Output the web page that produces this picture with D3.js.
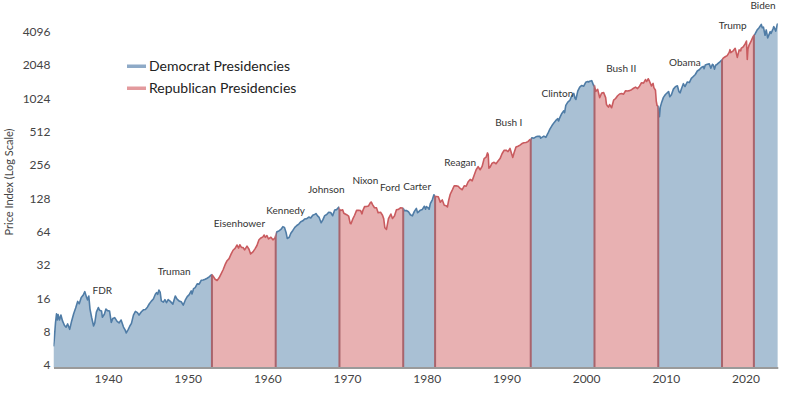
<!DOCTYPE html>
<html>
<head>
<meta charset="utf-8">
<script src="https://cdn.jsdelivr.net/npm/d3@7/dist/d3.min.js"></script>
<style>
  body { margin: 0; background: #fff; }
  svg text { font-family: Lato, "Open Sans", sans-serif; }
</style>
</head>
<body>
<div id="viz"></div>
<script>
// presidencies (name, party, year the term began)
const presidents = ["FDR", "Truman", "Eisenhower", "Kennedy", "Johnson", "Nixon", "Ford", "Carter",
  "Reagan", "Bush I", "Clinton", "Bush II", "Obama", "Trump", "Biden"];
const parties = ["D", "D", "R", "D", "D", "R", "R", "D", "R", "R", "D", "R", "D", "R", "D"];
const termStarts = [1933.17, 1945.28, 1953.05, 1961.05, 1963.89, 1969.05, 1974.6, 1977.05,
  1981.05, 1989.05, 1993.05, 2001.05, 2009.05, 2017.05, 2021.05];
const dataEnd = 2024.05;

// where each president's name sits (year, index level)
const labelYears = [1939.3, 1948.3, 1956.5, 1962.3, 1967.4, 1972.3, 1975.4, 1978.8,
  1984.2, 1990.3, 1996.4, 2004.4, 2012.4, 2018.4, 2022.2];
const labelValues = [19, 28.2, 76.6, 100, 155, 187, 159, 165, 267, 626, 1144, 1925, 2180, 4705, 7130];

const yTicks = [4, 8, 16, 32, 64, 128, 256, 512, 1024, 2048, 4096];
const xTicks = [1940, 1950, 1960, 1970, 1980, 1990, 2000, 2010, 2020];

// S&P 500 price index [year, level]
const sp500 = [
  [1933.17, 5.9], [1933.25, 6.6], [1933.42, 9.6], [1933.55, 11.6], [1933.65, 10.2], [1933.75, 11.4], [1933.92, 10.2],
  [1934.1, 11.3], [1934.3, 10.0], [1934.55, 9.1], [1934.75, 8.8], [1934.95, 9.4],
  [1935.2, 8.4], [1935.45, 10.0], [1935.7, 11.6], [1935.95, 13.1],
  [1936.2, 15.0], [1936.4, 14.3], [1936.65, 16.3], [1936.9, 17.1],
  [1937.1, 18.4], [1937.3, 16.5], [1937.45, 15.5], [1937.6, 16.8], [1937.75, 12.8], [1937.95, 10.8],
  [1938.2, 9.0], [1938.35, 9.6], [1938.55, 12.0], [1938.8, 13.2], [1938.95, 12.5],
  [1939.2, 12.3], [1939.3, 10.8], [1939.55, 11.5], [1939.75, 12.8], [1939.95, 12.4],
  [1940.2, 12.3], [1940.42, 9.7], [1940.6, 10.5], [1940.85, 10.7],
  [1941.15, 9.9], [1941.4, 9.6], [1941.65, 10.2], [1941.95, 8.8],
  [1942.15, 8.3], [1942.3, 7.8], [1942.55, 8.4], [1942.75, 9.0], [1942.95, 9.5],
  [1943.2, 11.3], [1943.45, 12.2], [1943.7, 11.9], [1943.9, 11.3],
  [1944.2, 12.1], [1944.45, 12.6], [1944.7, 12.7], [1944.95, 13.3],
  [1945.2, 14.3], [1945.45, 15.1], [1945.7, 15.8], [1945.95, 17.4],
  [1946.1, 18.0], [1946.25, 17.4], [1946.4, 19.0], [1946.55, 18.2], [1946.7, 15.2], [1946.95, 14.8],
  [1947.15, 15.6], [1947.35, 14.6], [1947.55, 15.6], [1947.8, 15.1],
  [1948.15, 14.2], [1948.45, 16.8], [1948.65, 15.8], [1948.95, 15.1],
  [1949.2, 14.9], [1949.45, 13.9], [1949.7, 15.4], [1949.95, 16.6],
  [1950.2, 17.3], [1950.45, 18.7], [1950.55, 17.5], [1950.75, 19.6], [1950.95, 20.0],
  [1951.2, 21.6], [1951.45, 21.5], [1951.7, 23.3], [1951.95, 23.4],
  [1952.2, 23.8], [1952.45, 24.3], [1952.7, 25.0], [1952.95, 26.0],
  [1953.05, 26.2], [1953.2, 25.3], [1953.45, 23.8], [1953.7, 23.2], [1953.95, 24.5],
  [1954.2, 26.6], [1954.45, 29.0], [1954.7, 32.2], [1954.95, 35.0],
  [1955.2, 36.5], [1955.45, 40.1], [1955.7, 43.5], [1955.95, 45.2],
  [1956.2, 48.5], [1956.4, 45.5], [1956.55, 48.8], [1956.75, 46.2], [1956.95, 46.1],
  [1957.15, 43.8], [1957.45, 47.4], [1957.7, 44.4], [1957.9, 40.3],
  [1958.2, 42.1], [1958.45, 44.8], [1958.7, 48.0], [1958.95, 54.1],
  [1959.2, 56.2], [1959.45, 57.5], [1959.6, 59.7], [1959.75, 56.9], [1959.95, 59.0],
  [1960.15, 55.0], [1960.45, 57.0], [1960.7, 54.0], [1960.95, 56.0],
  [1961.05, 59.0], [1961.2, 64.0], [1961.45, 65.0], [1961.7, 67.0], [1961.95, 71.0],
  [1962.15, 70.0], [1962.35, 63.0], [1962.5, 55.6], [1962.75, 57.0], [1962.95, 62.0],
  [1963.2, 65.7], [1963.45, 70.0], [1963.7, 72.8], [1963.95, 75.0],
  [1964.2, 78.8], [1964.45, 80.2], [1964.7, 83.4], [1964.95, 84.0],
  [1965.2, 86.8], [1965.45, 85.0], [1965.7, 89.9], [1965.95, 91.7],
  [1966.1, 93.3], [1966.3, 88.9], [1966.5, 86.1], [1966.75, 77.1], [1966.95, 81.3],
  [1967.2, 89.4], [1967.45, 91.4], [1967.7, 95.8], [1967.95, 95.3],
  [1968.2, 89.1], [1968.45, 100.5], [1968.7, 101.3], [1968.95, 106.5],
  [1969.05, 102.0], [1969.2, 99.3], [1969.45, 101.0], [1969.6, 94.0], [1969.95, 91.1],
  [1970.2, 88.6], [1970.4, 76.0], [1970.5, 75.6], [1970.7, 82.6], [1970.95, 90.1],
  [1971.2, 99.6], [1971.45, 99.7], [1971.7, 99.3], [1971.88, 92.8], [1971.98, 99.2],
  [1972.2, 107.7], [1972.45, 108.0], [1972.7, 109.4], [1972.95, 117.5],
  [1973.05, 118.4], [1973.2, 112.4], [1973.45, 105.2], [1973.7, 105.0], [1973.9, 94.8],
  [1974.2, 96.0], [1974.45, 90.0], [1974.6, 84.0], [1974.75, 69.4], [1974.95, 67.1],
  [1975.2, 83.8], [1975.5, 92.4], [1975.7, 84.2], [1975.95, 88.7],
  [1976.2, 101.0], [1976.45, 101.8], [1976.7, 105.2], [1976.95, 104.7],
  [1977.05, 103.8], [1977.2, 99.1], [1977.45, 99.3], [1977.7, 97.0], [1977.95, 91.0],
  [1978.2, 88.8], [1978.45, 97.7], [1978.7, 103.9], [1978.85, 95.0], [1978.95, 96.1],
  [1979.2, 100.1], [1979.45, 101.7], [1979.7, 108.6], [1979.85, 102.0], [1979.95, 107.8],
  [1980.2, 104.7], [1980.3, 102.0], [1980.45, 114.6], [1980.7, 124.1], [1980.9, 138.0],
  [1981.05, 133.0], [1981.2, 133.2], [1981.45, 132.3], [1981.7, 118.3], [1981.95, 123.8],
  [1982.2, 110.8], [1982.45, 109.6], [1982.6, 107.0], [1982.75, 122.4], [1982.95, 139.4],
  [1983.2, 151.9], [1983.45, 166.4], [1983.7, 166.0], [1983.95, 164.9],
  [1984.2, 157.4], [1984.45, 153.1], [1984.7, 166.1], [1984.95, 164.5],
  [1985.2, 180.7], [1985.45, 189.6], [1985.7, 184.1], [1985.95, 207.3],
  [1986.2, 232.3], [1986.45, 247.4], [1986.7, 232.0], [1986.95, 248.6],
  [1987.2, 292.5], [1987.45, 301.4], [1987.62, 329.4], [1987.72, 318.7], [1987.8, 240.0], [1987.95, 245.0],
  [1988.2, 265.7], [1988.45, 270.7], [1988.7, 263.0], [1988.95, 277.7],
  [1989.2, 292.7], [1989.45, 323.7], [1989.7, 347.3], [1989.95, 348.6],
  [1990.2, 338.5], [1990.45, 361.2], [1990.7, 315.4], [1990.8, 300.0], [1990.95, 328.8],
  [1991.2, 372.3], [1991.45, 378.3], [1991.7, 387.2], [1991.95, 400.0],
  [1992.2, 407.4], [1992.45, 408.3], [1992.7, 416.3], [1992.95, 435.6],
  [1993.05, 435.0], [1993.2, 451.7], [1993.45, 447.3], [1993.7, 460.1], [1993.95, 465.9],
  [1994.2, 464.7], [1994.3, 447.0], [1994.45, 454.8], [1994.7, 467.0], [1994.95, 455.2],
  [1995.2, 493.2], [1995.45, 539.4], [1995.7, 578.8], [1995.95, 614.6],
  [1996.2, 647.1], [1996.45, 670.6], [1996.55, 640.0], [1996.7, 687.3], [1996.95, 748.0],
  [1997.2, 789.6], [1997.3, 760.0], [1997.45, 885.1], [1997.7, 947.3], [1997.95, 980.3],
  [1998.2, 1076.8], [1998.45, 1133.8], [1998.62, 1020.0], [1998.72, 1000.0], [1998.95, 1190.0],
  [1999.2, 1294.0], [1999.45, 1339.0], [1999.7, 1318.0], [1999.95, 1428.7],
  [2000.2, 1454], [2000.3, 1440], [2000.45, 1462], [2000.7, 1480], [2000.95, 1331],
  [2001.05, 1335], [2001.2, 1185], [2001.45, 1234], [2001.7, 1040], [2001.95, 1144],
  [2002.2, 1153], [2002.45, 1040], [2002.55, 903], [2002.7, 870], [2002.8, 854], [2002.95, 900],
  [2003.2, 842], [2003.45, 985], [2003.7, 1021], [2003.95, 1081],
  [2004.2, 1121], [2004.45, 1133], [2004.7, 1116], [2004.95, 1199],
  [2005.2, 1194], [2005.45, 1202], [2005.7, 1227], [2005.95, 1263],
  [2006.2, 1294], [2006.45, 1254], [2006.7, 1320], [2006.95, 1416],
  [2007.2, 1407], [2007.45, 1514], [2007.6, 1455], [2007.8, 1539], [2007.95, 1463],
  [2008.2, 1327], [2008.4, 1400], [2008.5, 1280], [2008.7, 1213], [2008.8, 968], [2008.9, 883], [2008.97, 878],
  [2009.05, 865], [2009.15, 757], [2009.2, 700], [2009.3, 850], [2009.45, 928], [2009.7, 1045], [2009.95, 1110],
  [2010.2, 1152], [2010.35, 1180], [2010.5, 1060], [2010.7, 1102], [2010.95, 1241],
  [2011.2, 1304], [2011.45, 1330], [2011.65, 1175], [2011.8, 1150], [2011.95, 1244],
  [2012.2, 1390], [2012.4, 1310], [2012.7, 1440], [2012.95, 1422],
  [2013.2, 1550], [2013.45, 1614], [2013.7, 1682], [2013.95, 1808],
  [2014.2, 1857], [2014.45, 1947], [2014.7, 1993], [2014.8, 1900], [2014.95, 2054],
  [2015.2, 2083], [2015.45, 2099], [2015.65, 1920], [2015.85, 2080], [2015.95, 2054],
  [2016.1, 1880], [2016.25, 2040], [2016.45, 2083], [2016.7, 2160], [2016.95, 2246],
  [2017.05, 2275], [2017.2, 2366], [2017.45, 2434], [2017.7, 2492], [2017.95, 2664],
  [2018.05, 2820], [2018.15, 2650], [2018.45, 2754], [2018.7, 2902], [2018.97, 2400],
  [2019.2, 2804], [2019.4, 2750], [2019.45, 2890], [2019.7, 2983], [2019.95, 3176],
  [2020.12, 3370], [2020.22, 2300], [2020.3, 2850], [2020.45, 3104], [2020.7, 3365], [2020.95, 3695],
  [2021.05, 3793], [2021.2, 3910], [2021.45, 4238], [2021.7, 4445], [2021.98, 4766],
  [2022.1, 4450], [2022.25, 4500], [2022.45, 3800], [2022.6, 4250], [2022.78, 3600], [2022.95, 3850],
  [2023.1, 4100], [2023.2, 3950], [2023.45, 4345], [2023.55, 4550], [2023.8, 4150], [2023.98, 4770],
  [2024.05, 4850]
];

const width = 787, height = 398;
const plotBottom = 367.5;

const colors = {
  D: { fill: "#a9c0d4", line: "#4f7ca6", swatch: "#8eaac7" },
  R: { fill: "#e8b1b2", line: "#c95b5f", swatch: "#e39a9d" }
};

const svg = d3.select("#viz")
  .append("svg")
  .attr("width", width)
  .attr("height", height)
  .style("background", "#fff");

const xScale = d3.scaleLinear()
  .domain([termStarts[0], dataEnd])
  .range([53.5, 777.8]);

const yScale = d3.scaleLog()
  .base(2)
  .domain([4, 4096])
  .range([365, 31.7]);

const area = d3.area()
  .x(d => xScale(d[0]))
  .y0(plotBottom)
  .y1(d => yScale(d[1]));

const line = d3.line()
  .x(d => xScale(d[0]))
  .y(d => yScale(d[1]));

// merge consecutive terms of one party into blocks
const blocks = [];
termStarts.forEach((s, i) => {
  const last = blocks[blocks.length - 1];
  if (last && last.party === parties[i]) return;
  if (last) last.end = s;
  blocks.push({ party: parties[i], start: s, end: dataEnd });
});

const defs = svg.append("defs");
blocks.forEach((b, i) => {
  defs.append("clipPath")
    .attr("id", "blk" + i)
    .append("rect")
    .attr("x", xScale(b.start))
    .attr("y", 0)
    .attr("width", xScale(b.end) - xScale(b.start))
    .attr("height", plotBottom + 1);
});
defs.append("clipPath")
  .attr("id", "areaClip")
  .append("path")
  .attr("d", area(sp500));

blocks.forEach((b, i) => {
  const g = svg.append("g").attr("clip-path", `url(#blk${i})`);
  g.append("path")
    .attr("d", area(sp500))
    .attr("fill", colors[b.party].fill);
  g.append("path")
    .attr("d", line(sp500))
    .attr("fill", "none")
    .attr("stroke", colors[b.party].line)
    .attr("stroke-width", 1.6)
    .attr("stroke-linejoin", "round");
});

// dividers where the party changes
svg.append("g")
  .attr("clip-path", "url(#areaClip)")
  .selectAll("line")
  .data(blocks.slice(1))
  .join("line")
  .attr("x1", d => xScale(d.start))
  .attr("x2", d => xScale(d.start))
  .attr("y1", 0)
  .attr("y2", plotBottom)
  .attr("stroke", "#a9646c")
  .attr("stroke-width", 2);

// x axis
const xAxis = svg.append("g")
  .attr("transform", `translate(0,${plotBottom})`)
  .call(d3.axisBottom(xScale).tickValues(xTicks).tickSize(0).tickPadding(7).tickFormat(d3.format("d")));
xAxis.select(".domain").attr("stroke", "#9a9a9a").attr("stroke-width", 2);
xAxis.selectAll("text").attr("fill", "#444").style("font-size", "12px");

// y axis
const yAxis = svg.append("g")
  .attr("transform", `translate(${xScale.range()[0]},0)`)
  .call(d3.axisLeft(yScale).tickValues(yTicks).tickSize(0).tickPadding(3).tickFormat(d3.format("d")));
yAxis.select(".domain").remove();
yAxis.selectAll("text").attr("fill", "#444").style("font-size", "12px");

svg.append("text")
  .attr("transform", "translate(13,182) rotate(-90)")
  .attr("text-anchor", "middle")
  .attr("fill", "#444")
  .style("font-size", "11px")
  .text("Price Index (Log Scale)");

// president names
svg.append("g")
  .selectAll("text")
  .data(presidents)
  .join("text")
  .attr("x", (d, i) => xScale(labelYears[i]))
  .attr("y", (d, i) => yScale(labelValues[i]))
  .attr("dy", "0.35em")
  .attr("text-anchor", "middle")
  .attr("fill", "#333")
  .style("font-size", "10px")
  .text(d => d);

// legend
const legendItems = [["Democrat Presidencies", "D"], ["Republican Presidencies", "R"]];
const legend = svg.append("g").attr("transform", "translate(127,66)");
legendItems.forEach(([label, p], i) => {
  const row = legend.append("g").attr("transform", `translate(0,${i * 22})`);
  row.append("rect")
    .attr("x", 0).attr("y", -1.5)
    .attr("width", 19).attr("height", 3.5)
    .attr("fill", colors[p].swatch);
  row.append("text")
    .attr("x", 22)
    .attr("dy", "0.35em")
    .attr("fill", "#222")
    .style("font-size", "14px")
    .text(label);
});
</script>
</body>
</html>
